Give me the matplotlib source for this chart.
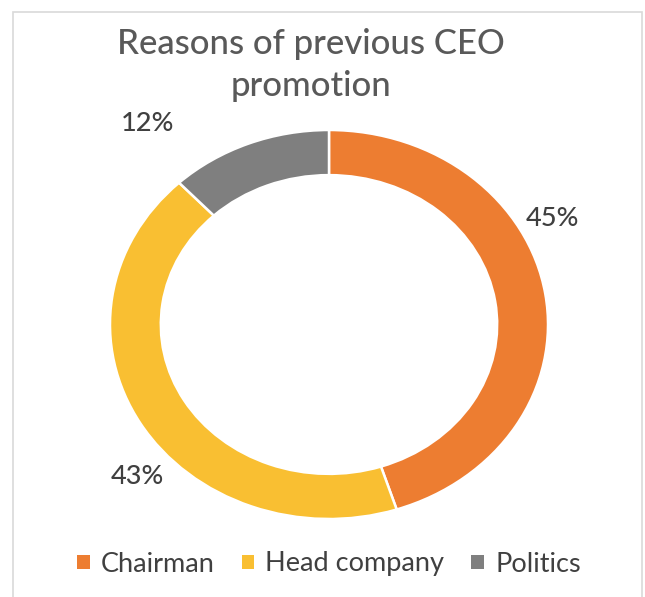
import matplotlib
matplotlib.use("Agg")
import matplotlib.pyplot as plt
from matplotlib.patches import Patch, Rectangle

# Data
categories = ["Chairman", "Head company", "Politics"]
shares = [45, 43, 12]
labels = ["45%", "43%", "12%"]
colors = ["#ED7D31", "#F9BF32", "#7F7F7F"]

plt.rcParams["font.family"] = ["Lato", "DejaVu Sans"]

W, H = 645, 597
fig = plt.figure(figsize=(W / 100, H / 100), dpi=100)
fig.patch.set_facecolor("white")

# Light frame around the chart area (open at the bottom edge)
frame = Rectangle((13 / W, -0.02), (642 - 13) / W, 1.02 - 12 / H,
                  transform=fig.transFigure, fill=False,
                  edgecolor="#D9D9D9", linewidth=1.2)
fig.add_artist(frame)

# Donut axes: stretched box gives the slightly elliptical ring
cx, cy, rx, ry = 329, 324.5, 219, 194.5
ax = fig.add_axes([(cx - rx) / W, (H - (cy + ry)) / H, 2 * rx / W, 2 * ry / H])
wedges, _ = ax.pie(shares, colors=colors, startangle=90, counterclock=False,
                   wedgeprops=dict(width=0.232, edgecolor="white", linewidth=1.8))
ax.set_aspect("auto")
ax.set_xlim(-1, 1)
ax.set_ylim(-1, 1)

# Percentage labels outside the ring
label_pos = {"45%": (552, 219), "43%": (137, 477), "12%": (148, 124)}
for lab in labels:
    x, y = label_pos[lab]
    fig.text(x / W, 1 - y / H, lab, ha="center", va="center",
             fontsize=19.5, color="#404040", fontweight="medium")

# Title
title_kw = dict(ha="center", va="center", fontsize=25, color="#595959",
                fontweight="medium")
fig.text(311 / W, 1 - 44 / H, "Reasons of previous CEO", **title_kw)
fig.text(311 / W, 1 - 86 / H, "promotion", **title_kw)

# Legend
handles = [Patch(facecolor=c, edgecolor="none") for c in colors]
fig.legend(handles, categories, loc="center", bbox_to_anchor=(329 / W, 1 - 564 / H),
           ncol=3, frameon=False, fontsize=19.5, handlelength=0.45, handleheight=0.45,
           handletextpad=0.42, columnspacing=1.0, labelcolor="#404040")

fig.savefig("out.png", dpi=100, facecolor="white")
